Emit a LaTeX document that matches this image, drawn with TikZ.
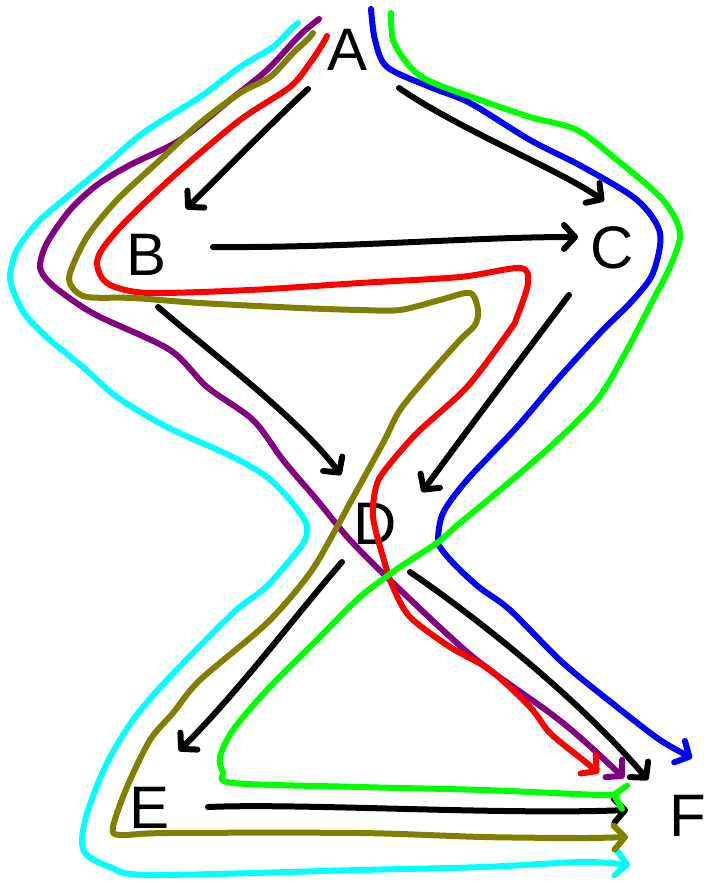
\documentclass[tikz,border=0pt]{standalone}
\usepackage{fontspec}
\setmainfont{Liberation Sans}
\usetikzlibrary{arrows.meta}
\definecolor{cCyan}{RGB}{0,255,255}
\definecolor{cPurple}{RGB}{128,0,128}
\definecolor{cOlive}{RGB}{128,128,0}
\definecolor{cRed}{RGB}{255,0,0}
\definecolor{cBlue}{RGB}{0,0,255}
\definecolor{cGreen}{RGB}{0,255,0}
\tikzset{
  letter/.style={inner sep=0pt, font=\fontsize{60}{60}\selectfont},
  tip/.style={-{Straight Barb[length=11pt,width=24pt,round]}},
  arr/.style={line width=6pt, line cap=round, line join=round, tip, draw=black},
  route/.style={line width=6pt, line cap=round, line join=round, tip},
}
\begin{document}
\begin{tikzpicture}[x=1pt,y=-1pt]
\useasboundingbox (0,0) rectangle (711,883);
% nodes
\node[letter] (A) at (348,50) {A};
\node[letter] (B) at (147,255) {B};
\node[letter] (C) at (612,248) {C};
\node[letter] (D) at (375,524) {D};
\node[letter] (E) at (150,808) {E};
\node[letter] (F) at (688,816) {F};
% connector end points
\coordinate (AB1) at (308,89);  \coordinate (AB2) at (186,209);
\coordinate (AC1) at (399,88);  \coordinate (AC2) at (604,201);
\coordinate (BC1) at (213,247); \coordinate (BC2) at (578,237);
\coordinate (BD1) at (158,307); \coordinate (BD2) at (341,475);
\coordinate (CD1) at (569,295); \coordinate (CD2) at (422,492);
\coordinate (DE1) at (342,562); \coordinate (DE2) at (179,751);
\coordinate (DF1) at (410,572); \coordinate (DF2) at (648,780);
\coordinate (EF1) at (208,807); \coordinate (EF2) at (628,810);
% black arrows
\draw[arr] (AB1) .. controls (285,110) and (230,165) .. (AB2);
\draw[arr] (AC1) .. controls (460,130) and (560,170) .. (AC2);
\draw[arr] (BC1) .. controls (350,248) and (470,237) .. (BC2);
\draw[arr] (BD1) .. controls (220,360) and (300,420) .. (BD2);
\draw[arr] (CD1) .. controls (520,360) and (460,440) .. (CD2);
\draw[arr] (DE1) .. controls (300,610) and (240,690) .. (DE2);
\draw[arr] (DF1) .. controls (480,620) and (580,700) .. (DF2);
\draw[arr] (EF1) .. controls (300,803) and (500,815) .. (EF2);
% coloured routes
\draw[route, cCyan] plot[smooth, tension=0.5] coordinates {
 (298,23) (290,30) (273,47) (240,67) (200,97) (143,133) (100,170) (67,197)
 (37,223) (17,250) (10,277) (17,300) (27,317) (50,340) (83,367) (117,397)
 (167,427) (233,457) (267,477) (290,500) (306,523) (305,540) (290,560)
 (265,588) (233,613) (167,680) (133,720) (107,763) (88,810) (82,840)
 (87,855) (110,867) (150,875) (360,870) (483,867) (583,862) (630,865)};
\draw[route, cPurple] plot[smooth, tension=0.5] coordinates {
 (319,19) (300,35) (267,70) (230,100) (180,140) (130,165) (97,185) (70,210)
 (47,243) (40,267) (50,283) (75,302) (100,317) (170,350) (207,387)
 (253,420) (283,460) (317,500) (350,540) (393,583) (473,657) (550,713)
 (583,740) (624,778)};
\draw[route, cOlive] plot[smooth, tension=0.5] coordinates {
 (313,33) (307,40) (293,53) (270,77) (240,93) (200,123) (160,160) (117,200)
 (87,237) (70,273) (72,287) (87,297) (133,298) (200,303) (300,308) (360,310)
 (400,310) (440,300) (470,293) (478,310) (475,325) (460,340) (427,377)
 (400,410) (383,443) (350,503) (337,527) (310,573) (267,623) (200,680)
 (173,713) (150,740) (127,787) (113,827) (120,835) (167,833) (360,833)
 (483,837) (583,838) (628,837)};
\draw[route, cRed] plot[smooth, tension=0.5] coordinates {
 (327,36) (322,45) (310,63) (290,87) (240,120) (177,173) (127,220)
 (103,248) (97,263) (102,278) (115,287) (150,293) (250,290) (360,283)
 (460,277) (520,268) (528,283) (517,317) (510,330) (467,387) (417,433)
 (385,470) (376,487) (373,517) (383,557) (393,587) (410,617) (450,647)
 (490,670) (530,707) (550,733) (583,760) (599,773)};
\draw[route, cBlue] plot[smooth, tension=0.5] coordinates {
 (371,9) (375,40) (387,67) (430,87) (470,103) (530,140) (583,167)
 (637,200) (660,233) (653,273) (633,300) (600,333) (557,380) (517,427)
 (467,480) (443,513) (438,540) (442,550) (457,567) (480,588) (510,610)
 (563,663) (617,707) (660,740) (692,758)};
\draw[route, cGreen] plot[smooth, tension=0.5] coordinates {
 (391,13) (393,40) (407,63) (427,80) (480,100) (530,117) (577,130)
 (617,160) (663,200) (680,233) (670,267) (653,300) (627,350) (597,400)
 (550,447) (500,490) (460,523) (437,543) (400,567) (360,597) (317,640)
 (267,690) (233,730) (220,757) (223,772) (233,783) (360,787) (483,790)
 (600,795) (611,794)};
\end{tikzpicture}
\end{document}
